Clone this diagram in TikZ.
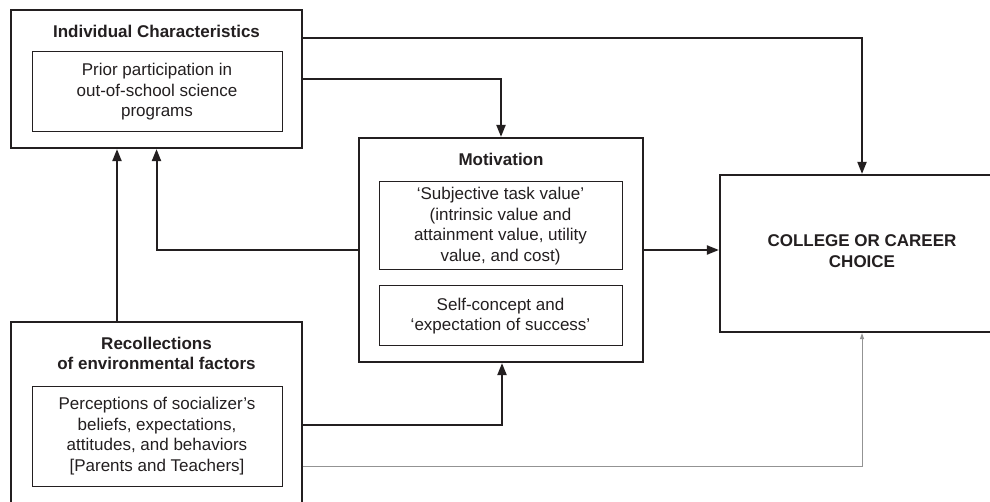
\documentclass[tikz,border=0pt]{standalone}
\usepackage{fontspec}
\setmainfont{Liberation Sans}
\usetikzlibrary{arrows.meta}
\definecolor{ink}{HTML}{231F20}
\begin{document}
\begin{tikzpicture}[x=1pt,y=-1pt,
  txt/.style={font=\fontsize{17}{20.5}\selectfont, text=ink, align=center},
  ttl/.style={font=\bfseries\fontsize{17}{20.5}\selectfont, text=ink, align=center},
  outerbox/.style={draw=ink, line width=2.2pt, inner sep=0pt},
  innerbox/.style={draw=ink, line width=1pt, inner sep=0pt, txt},
  conn/.style={draw=ink, line width=2pt, -{Triangle[length=12pt,width=9pt]}},
  thinconn/.style={draw=gray!85, line width=1pt, -{Triangle[length=6pt,width=4pt]}}
]
\useasboundingbox (0,0) rectangle (990,502);
\clip (0,0) rectangle (990,502);
\fill[white] (0,0) rectangle (990,502);

% Individual Characteristics
\node[outerbox, minimum width=291, minimum height=138] (IC) at (156.5,79) {};
\node[ttl] (ICt) at (156.5,31) {Individual Characteristics};
\node[innerbox, minimum width=250, minimum height=80] (ICi) at (157,92)
  {Prior participation in\\out-of-school science\\programs};

% Motivation
\node[outerbox, minimum width=284, minimum height=224] (Mot) at (501,250) {};
\node[ttl] (Mott) at (501,159) {Motivation};
\node[innerbox, minimum width=243, minimum height=88] (Mot1) at (500.5,226)
  {`Subjective task value'\\(intrinsic value and\\attainment value, utility\\value, and cost)};
\node[innerbox, minimum width=243, minimum height=60] (Mot2) at (500.5,316)
  {Self-concept and\\`expectation of success'};

% Recollections
\node[outerbox, minimum width=291, minimum height=206] (Rec) at (156.5,425) {};
\node[ttl] (Rect) at (156.5,353.5) {Recollections\\of environmental factors};
\node[innerbox, minimum width=250, minimum height=100] (Reci) at (157,436)
  {Perceptions of socializer's\\beliefs, expectations,\\attitudes, and behaviors\\{[Parents and Teachers]}};

% College or career choice
\node[outerbox, minimum width=284, minimum height=157] (CC) at (862,253.5) {};
\node[ttl] (CCt) at (862,251) {COLLEGE OR CAREER\\CHOICE};

% Connectors
\draw[conn] ([yshift=41pt]IC.east) -| (CC.north);
\draw[conn] (IC.east) -| (Mot.north);
\draw[conn] (Mot.west) -| (IC.south);
\draw[conn] ([xshift=-39.5pt]Rec.north) -- ([xshift=-39.5pt]IC.south);
\draw[conn] (Rec.east) -| ([xshift=1pt]Mot.south);
\draw[thinconn] ([yshift=-41pt]Rec.east) -| (CC.south);
\draw[conn] (Mot.east) -- (Mot.east -| CC.west);
\end{tikzpicture}
\end{document}
